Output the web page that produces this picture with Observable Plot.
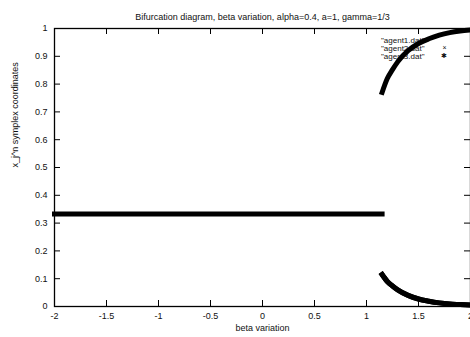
<!DOCTYPE html>
<html>
<head>
<meta charset="utf-8">
<script src="https://cdn.jsdelivr.net/npm/d3@7"></script>
<script src="https://cdn.jsdelivr.net/npm/@observablehq/plot@0.6"></script>
<style>
  html, body { margin: 0; padding: 0; background: #fff; }
</style>
</head>
<body>
<div id="chart"></div>
<script>
// ---- data ----
const title = "Bifurcation diagram, beta variation, alpha=0.4, a=1, gamma=1/3";
const xLabel = "beta variation";
const yLabel = "x_j^n symplex coordinates";
const legendLabels = ["\"agent1.dat\"", "\"agent2.dat\"", "\"agent3.dat\""];
const legendSymbols = ["", "×", "✱"];

const xTicks = [-2, -1.5, -1, -0.5, 0, 0.5, 1, 1.5, 2];
const yTicks = [0, 0.1, 0.2, 0.3, 0.4, 0.5, 0.6, 0.7, 0.8, 0.9, 1];

// symmetric state (all agents equal) before bifurcation
const betaSym = [-2, 1.15];
const symValue = [0.333, 0.333];

// after bifurcation
const betaBranch = [1.15, 1.2, 1.25, 1.3, 1.4, 1.5, 1.6, 1.7, 1.8, 1.9, 2.0];
const agent1Branch = [0.77, 0.82, 0.852, 0.88, 0.92, 0.946, 0.963, 0.976, 0.985, 0.991, 0.995];
const agent2Branch = [0.115, 0.09, 0.074, 0.06, 0.04, 0.027, 0.019, 0.013, 0.009, 0.007, 0.005];
const agent3Branch = [0.115, 0.09, 0.074, 0.06, 0.04, 0.027, 0.019, 0.013, 0.009, 0.007, 0.005];

const toRows = (xs, ys) => xs.map((x, i) => ({x, y: ys[i]}));
const symRows = toRows(betaSym, symValue);
const branches = [agent1Branch, agent2Branch, agent3Branch].map(a => toRows(betaBranch, a));

const fmt = d => String(d);

const lineStyle = {x: "x", y: "y", stroke: "black", strokeWidth: 5, curve: "monotone-x", strokeLinecap: "square", strokeLinejoin: "miter"};

const plot = Plot.plot({
  width: 470,
  height: 337,
  marginLeft: 54,
  marginRight: 0,
  marginTop: 28,
  marginBottom: 31,
  style: {fontFamily: "'Liberation Sans', Arial, sans-serif", fontSize: "9px", color: "#111", background: "white"},
  x: {domain: [-2, 2]},
  y: {domain: [0, 1]},
  marks: [
    // tick labels (ticks drawn inward separately)
    Plot.axisX(xTicks, {tickSize: 0, tickPadding: 6, tickFormat: fmt, label: null}),
    Plot.axisY(yTicks, {tickSize: 0, tickPadding: 7, tickFormat: fmt, label: null}),
    // inward mirror ticks
    Plot.tickX(xTicks, {x: d => d, insetTop: 272, stroke: "black", strokeWidth: 1}),
    Plot.tickX(xTicks, {x: d => d, insetBottom: 272, stroke: "black", strokeWidth: 1}),
    Plot.tickY(yTicks, {y: d => d, insetRight: 410, stroke: "black", strokeWidth: 1}),
    Plot.tickY(yTicks, {y: d => d, insetLeft: 410, stroke: "black", strokeWidth: 1}),
    Plot.frame({stroke: "black", strokeWidth: 1.3}),
    // title and axis titles
    Plot.text([title], {frameAnchor: "top", dy: -15, fill: "#111"}),
    Plot.text([xLabel], {frameAnchor: "bottom", dy: 24, fill: "#111"}),
    Plot.text([yLabel], {frameAnchor: "left", dx: -39, rotate: -90, fill: "#111"}),
    // legend
    ...legendLabels.map((t, i) => Plot.text([t], {frameAnchor: "top-right", textAnchor: "end", dx: -46, dy: 9 + i * 8, fill: "#111", fontSize: 8})),
    ...legendSymbols.map((s, i) => Plot.text([s], {frameAnchor: "top-right", dx: -24, dy: 9 + i * 8, fill: "#111", fontSize: 7})),
    // data
    Plot.line(symRows, lineStyle),
    ...branches.map(rows => Plot.line(rows, lineStyle))
  ]
});

document.getElementById("chart").appendChild(plot);
</script>
</body>
</html>
